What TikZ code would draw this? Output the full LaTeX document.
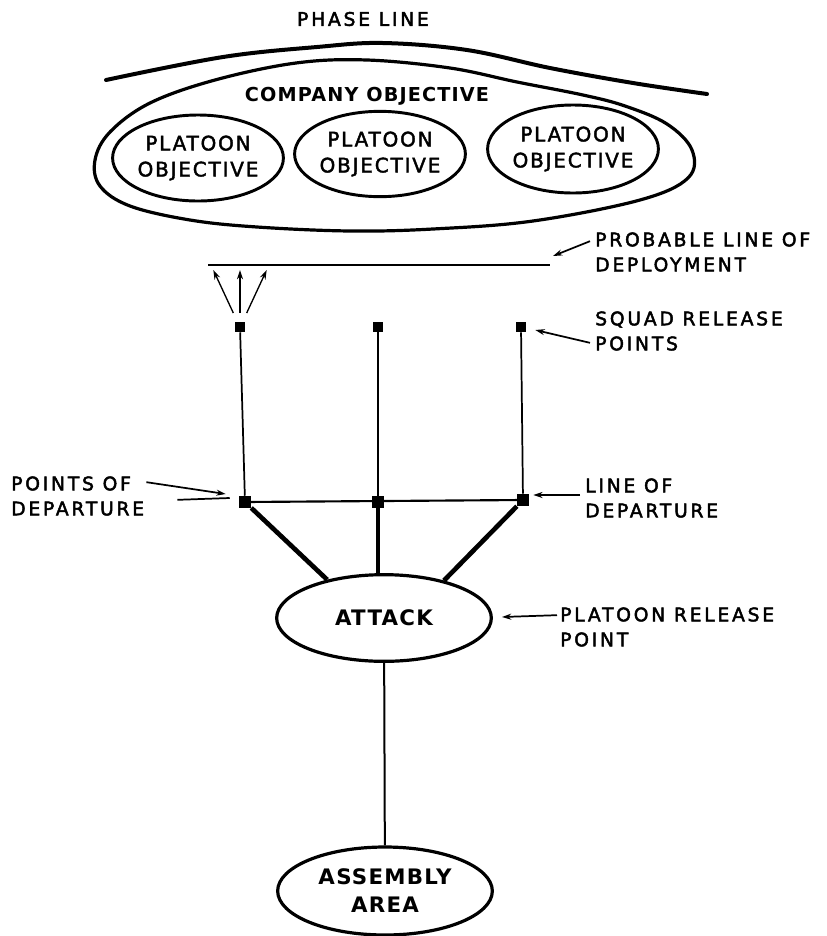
\documentclass[tikz,border=0pt]{standalone}
\usepackage{fontspec}
\setmainfont{DejaVu Sans}
\newfontfamily\lblfont[LetterSpace=15,FakeBold=2.5]{DejaVu Sans}
\newfontfamily\objfont[LetterSpace=9,FakeBold=2]{DejaVu Sans}
\newfontfamily\bldfont[LetterSpace=6]{DejaVu Sans}
\usetikzlibrary{shapes.geometric,arrows.meta}

\tikzset{
  lbl/.style={anchor=west, align=left, inner sep=0pt, font=\lblfont\fontsize{14}{18.75}\selectfont},
  pltobj/.style={draw, ellipse, line width=2.2pt, inner sep=0pt, align=center,
    font=\objfont\fontsize{15}{19.5}\selectfont},
  area/.style={draw, ellipse, line width=2.4pt, inner sep=0pt, minimum width=161pt,
    minimum height=65pt, align=center, font=\bldfont\bfseries\fontsize{16}{21}\selectfont},
  srp/.style={fill, rectangle, inner sep=0pt, minimum size=7.5pt},
  pod/.style={fill, rectangle, inner sep=0pt, minimum size=9pt},
  ptr/.style={-{Stealth[length=7pt,width=4.5pt]}, line width=1.3pt},
}

\begin{document}
\begin{tikzpicture}[x=0.75pt, y=-0.75pt]
  \useasboundingbox (0,0) rectangle (826,936);

  % Phasenlinie und Kompanieziel
  \node[inner sep=0pt, font=\lblfont\fontsize{14}{16}\selectfont] (phase) at (363,19) {PHASE LINE};
  \draw[line width=3pt, line cap=round] plot[smooth, tension=0.6] coordinates
    {(106,80) (223,57) (317,47) (383,43) (467,50) (550,68) (633,83) (707,94)};
  \draw[line width=2.4pt] plot[smooth cycle, tension=0.6] coordinates
    {(296,63) (367,60) (450,68) (517,82) (583,95) (625,106) (667,124) (692,150)
     (688,178) (640,200) (533,221) (433,229) (350,231) (257,227) (190,220)
     (130,206) (100,186) (95,160) (110,132) (150,103) (215,80)};
  \node[inner sep=0pt, font=\bldfont\bfseries\fontsize{14.4}{16}\selectfont] (coy) at (367,96) {COMPANY OBJECTIVE};

  \node[pltobj, minimum width=128pt, minimum height=64.5pt] (obj1) at (198,158) {PLATOON\\OBJECTIVE};
  \node[pltobj, minimum width=127.5pt, minimum height=64pt] (obj2) at (380,154) {PLATOON\\OBJECTIVE};
  \node[pltobj, minimum width=127.5pt, minimum height=66pt] (obj3) at (573,149) {PLATOON\\OBJECTIVE};

  % Entfaltungslinie
  \coordinate (pl1) at (208,265);
  \coordinate (pl2) at (550,265);
  \draw[line width=2.2pt] (pl1) -- (pl2);
  \coordinate (fan) at (240,313);
  \coordinate (fantop) at (240,270);
  \foreach \dx/\sx in {-20/-5, 0/0, 20/5}
    \draw[ptr, line width=1pt] ([xshift=\sx]fan) -- ([xshift=\dx]fantop);

  % Punkte
  \node[srp] (srp1) at (240,327) {};
  \node[srp] (srp2) at (378,327) {};
  \node[srp] (srp3) at (521,327) {};
  \node[pod] (pod1) at (245,502) {};
  \node[pod] (pod2) at (378,502) {};
  \node[pod] (pod3) at (523,500) {};
  \draw[line width=1.3pt] (srp1) -- (pod1);
  \draw[line width=1.3pt] (srp2) -- (pod2);
  \draw[line width=1.3pt] (srp3) -- (pod3);
  \draw[line width=1.6pt] (pod1.center) -- (pod3.center);

  \node[area] (atk) at (384,618) {ATTACK};
  \node[area, minimum height=66pt] (asm) at (385,891) {ASSEMBLY\\AREA};
  \draw[line width=3.5pt] (pod1) -- (atk.146);
  \draw[line width=3.5pt] (pod2) -- (pod2 |- atk.north);
  \draw[line width=3.5pt] (pod3) -- (atk.32);
  \draw[line width=1.5pt] (atk) -- (asm);

  % Beschriftung
  \node[lbl] (prb) at (595,252) {PROBABLE LINE OF\\DEPLOYMENT};
  \node[lbl] (sqd) at (595,331) {SQUAD RELEASE\\POINTS};
  \node[lbl] (lod) at (585,498) {LINE OF\\DEPARTURE};
  \node[lbl] (ptd) at (11,496) {POINTS OF\\DEPARTURE};
  \node[lbl] (prp) at (560,627) {PLATOON RELEASE\\POINT};

  \draw[ptr] ([shift={(-5,9)}]prb.north west) -- ([shift={(3,-9)}]pl2);
  \draw[ptr] ([shift={(-5,-8)}]sqd.south west) -- ([shift={(9,3)}]srp3.east);
  \draw[ptr] ([shift={(-5,-3)}]lod.west) -- ([shift={(4,-5)}]pod3.east);
  \draw[ptr] ([shift={(-3,8)}]prp.north west) -- ([shift={(9,-1)}]atk.east);
  \draw[ptr] ([shift={(2,6)}]ptd.north east) -- ([shift={(-13,-8)}]pod1.west);
  \draw[line width=1.3pt] ([shift={(33,-16)}]ptd.south east) -- ([shift={(-9,-4)}]pod1.west);

\end{tikzpicture}
\end{document}
